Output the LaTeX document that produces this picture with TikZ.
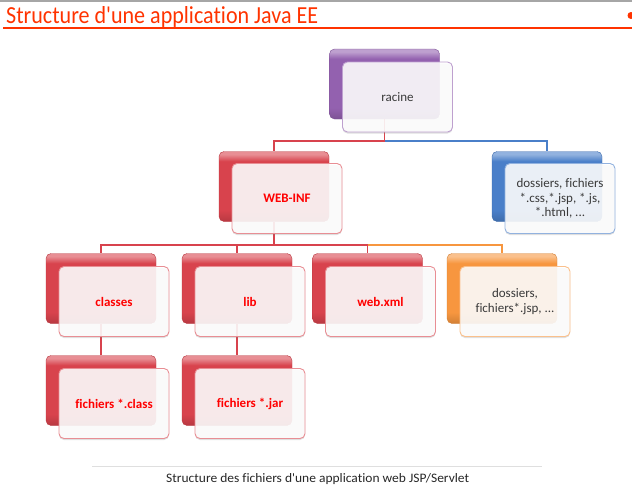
\documentclass[tikz,border=0pt]{standalone}
\usepackage{graphicx}
\usepackage{fontspec}
\setmainfont[Ligatures=NoCommon]{Carlito}
\newfontfamily\titlefont[Ligatures=NoCommon]{Carlito}
\usetikzlibrary{shadows}
\definecolor{titlered}{HTML}{FF3300}
\definecolor{boxred}{HTML}{D8434D}
\definecolor{boxpurple}{HTML}{9361AF}
\definecolor{boxblue}{HTML}{4A7FC9}
\definecolor{boxorange}{HTML}{F7963F}
\definecolor{txtgray}{HTML}{3A3A3A}
\colorlet{base}{boxred}
\pgfdeclareverticalshading[base]{boxshade}{100bp}{color(0bp)=(base!85!black); color(25bp)=(base!85!black); color(33bp)=(base); color(68bp)=(base); color(73bp)=(base!60!white); color(75bp)=(base!60!white); color(100bp)=(base!60!white)}
\begin{document}
\begin{tikzpicture}[x=1pt, y=-1pt,
    back/.style={rounded corners=5pt, minimum width=110pt, minimum height=70pt, /utils/exec={\colorlet{base}{#1}}, shading=boxshade, draw=#1!85!black, line width=.4pt},
    front/.style={rounded corners=5pt, minimum width=110pt, minimum height=70pt, fill=white, fill opacity=.88, text opacity=1, draw=#1!60!white, line width=.9pt, drop shadow={opacity=.25, shadow xshift=0pt, shadow yshift=-1.5pt}, align=center, text=txtgray, font=\fontsize{13}{14.5}\selectfont},
    redlbl/.style={text=red, font=\bfseries\fontsize{13}{14.5}\selectfont},
    link/.style={line width=1.6pt, draw=#1}]
  \useasboundingbox (0,0) rectangle (632,488);
  % page heading
  \draw [gray!70, line width=1.5pt] (0,0.75) -- (632,0.75);
  \node [anchor=base west, inner sep=0, text=titlered] (titre) at (6,23) {\resizebox{312pt}{17pt}{\titlefont Structure d'une application Java EE}};
  \draw [titlered, line width=1.2pt] (3,28) -- (632,28);
  \fill [titlered] (631,15.5) circle (3.5pt);
  % coloured boxes
  \node [back=boxpurple] (racine) at (384.5,84) {};
  \node [back=boxred] (webinf) at (274,186.5) {};
  \node [back=boxblue] (statique) at (547,186.5) {};
  \node [back=boxred] (classes) at (101,288.5) {};
  \node [back=boxred] (lib) at (237,288.5) {};
  \node [back=boxred] (webxml) at (367.5,288.5) {};
  \node [back=boxorange] (pages) at (502,288.5) {};
  \node [back=boxred] (fclass) at (101,390.5) {};
  \node [back=boxred] (fjar) at (237,390.5) {};
  % links
  \coordinate (bus1) at ([yshift=-22pt]racine.south);
  \coordinate (bus2) at ([yshift=-23pt]webinf.south);
  \draw [link=boxred] (racine.south) -- (bus1) -| (webinf.north);
  \draw [link=boxblue] (bus1) -| (statique.north);
  \draw [link=boxred] (webinf.south) -- (bus2) -| (classes.north);
  \draw [link=boxred] (bus2) -| (lib.north);
  \draw [link=boxred] (bus2) -| (webxml.north);
  \draw [link=boxorange] (bus2 -| webxml.north) -| (pages.north);
  \draw [link=boxred] (classes.south) -- (fclass.north);
  \draw [link=boxred] (lib.south) -- (fjar.north);
  % white cards
  \node [front=boxpurple] (racine-t) at ([shift={(13,13)}]racine) {racine};
  \node [front=boxred, redlbl] (webinf-t) at ([shift={(13,12)}]webinf) {WEB-INF};
  \node [front=boxblue] (statique-t) at ([shift={(13,12)}]statique) {dossiers, fichiers\\*.css,*.jsp, *.js,\\*.html, ...};
  \node [front=boxred, redlbl] (classes-t) at ([shift={(13,13)}]classes) {classes};
  \node [front=boxred, redlbl] (lib-t) at ([shift={(13,13)}]lib) {lib};
  \node [front=boxred, redlbl] (webxml-t) at ([shift={(13,13)}]webxml) {web.xml};
  \node [front=boxorange] (pages-t) at ([shift={(13,13)}]pages) {dossiers,\\fichiers*.jsp, ...};
  \node [front=boxred, redlbl] (fclass-t) at ([shift={(13,13)}]fclass) {fichiers *.class};
  \node [front=boxred, redlbl] (fjar-t) at ([shift={(13,13)}]fjar) {fichiers *.jar};
  % caption
  \draw [gray!25, line width=1pt] (92,466) -- (542,466);
  \node [anchor=base west, inner sep=0, text=black!85] (legende) at (166,482) {\resizebox{303pt}{9pt}{\titlefont Structure des fichiers d'une application web JSP/Servlet}};
\end{tikzpicture}
\end{document}
